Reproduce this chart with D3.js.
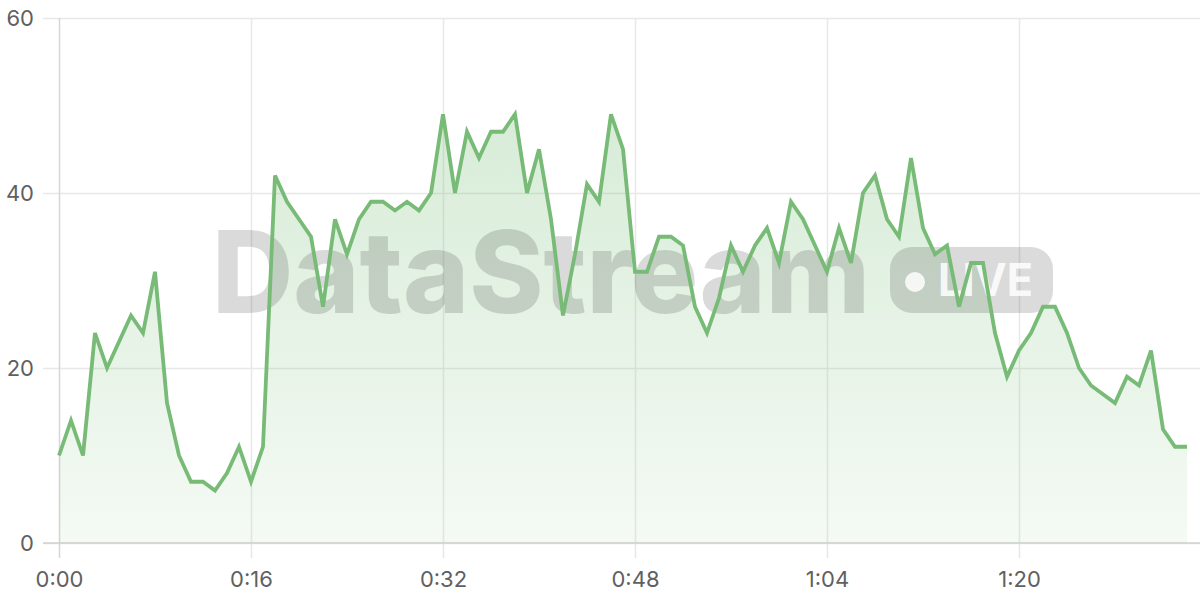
<!DOCTYPE html>
<html>
<head>
<meta charset="utf-8">
<script src="https://cdn.jsdelivr.net/npm/d3@7"></script>
<style>
  html, body { margin: 0; padding: 0; background: #fff; }
  svg { display: block; font-family: Inter, "Noto Sans", sans-serif; }
</style>
</head>
<body>
<svg id="chart"></svg>
<script>
const WIDTH = 1200;
const HEIGHT = 600;
const LEFT = 59;
const RIGHT = 1187;
const TOP = 18;
const BOTTOM = 543;
const FONT = 'Inter, "Noto Sans", sans-serif';

// one reading per minute, 0:00 .. 1:34
const minutes = d3.range(0, 95);
const values = [
  10, 14, 10, 24, 20, 23, 26, 24, 31, 16,
  10, 7, 7, 6, 8, 11, 7, 11, 42, 39,
  37, 35, 27, 37, 33, 37, 39, 39, 38, 39,
  38, 40, 49, 40, 47, 44, 47, 47, 49, 40,
  45, 37, 26, 33, 41, 39, 49, 45, 31, 31,
  35, 35, 34, 27, 24, 28, 34, 31, 34, 36,
  32, 39, 37, 34, 31, 36, 32, 40, 42, 37,
  35, 44, 36, 33, 34, 27, 32, 32, 24, 19,
  22, 24, 27, 27, 24, 20, 18, 17, 16, 19,
  18, 22, 13, 11, 11
];
const xTicks = [0, 16, 32, 48, 64, 80];
const yTicks = [0, 20, 40, 60];

const data = minutes.map((m, i) => ({ m, v: values[i] }));

const fmtTime = m => Math.floor(m / 60) + ':' + String(m % 60).padStart(2, '0');

const x = d3.scaleLinear().domain([0, 94]).range([LEFT, RIGHT]);
const y = d3.scaleLinear().domain([0, 60]).range([BOTTOM, TOP]);

const svg = d3.select('#chart').attr('width', WIDTH).attr('height', HEIGHT);

const defs = svg.append('defs');
const grad = defs.append('linearGradient')
  .attr('id', 'areaFill')
  .attr('x1', 0).attr('y1', 0).attr('x2', 0).attr('y2', 1);
grad.append('stop').attr('offset', '0%').attr('stop-color', '#7bbf7b').attr('stop-opacity', 0.3);
grad.append('stop').attr('offset', '100%').attr('stop-color', '#7bbf7b').attr('stop-opacity', 0.08);

// horizontal grid
const yAxis = d3.axisLeft(y)
  .tickValues(yTicks)
  .tickSize(-(WIDTH - 43))
  .tickPadding(10);
const yg = svg.append('g')
  .attr('class', 'y-axis')
  .attr('transform', `translate(43, 0)`)
  .call(yAxis)
  .attr('font-family', FONT);
yg.select('.domain').remove();
yg.selectAll('.tick line')
  .attr('stroke', '#e8e8e8')
  .attr('stroke-width', 1.5)
  .attr('x1', 0);
yg.selectAll('.tick text')
  .attr('x', -9)
  .attr('fill', '#606060')
  .attr('font-size', 22);

// vertical grid + time labels
const xAxis = d3.axisBottom(x)
  .tickValues(xTicks)
  .tickFormat(fmtTime)
  .tickSize(-(BOTTOM - TOP))
  .tickPadding(0);
const xg = svg.append('g')
  .attr('class', 'x-axis')
  .attr('transform', `translate(0, ${BOTTOM})`)
  .call(xAxis)
  .attr('font-family', FONT);
xg.select('.domain').remove();
xg.selectAll('.tick line')
  .attr('y2', 15)
  .attr('y1', -(BOTTOM - TOP))
  .attr('stroke', (d, i) => i === 0 ? '#d6d6d6' : '#e8e8e8')
  .attr('stroke-width', 1.5);
xg.selectAll('.tick text')
  .attr('y', 37)
  .attr('dy', '0.32em')
  .attr('fill', '#606060')
  .attr('font-size', 22);

// baseline
svg.append('line')
  .attr('x1', 43).attr('x2', WIDTH)
  .attr('y1', y(0)).attr('y2', y(0))
  .attr('stroke', '#d0d0d0')
  .attr('stroke-width', 1.5);

// area
const area = d3.area()
  .x(d => x(d.m))
  .y0(y(0))
  .y1(d => y(d.v));
svg.append('path')
  .datum(data)
  .attr('fill', 'url(#areaFill)')
  .attr('d', area);

// watermark
const wm = svg.append('g').attr('class', 'watermark').attr('opacity', 0.14)
  .attr('font-family', FONT);
wm.append('text')
  .attr('x', 212)
  .attr('y', 313)
  .attr('font-size', 114)
  .attr('font-weight', 800)
  .attr('textLength', 658)
  .attr('lengthAdjust', 'spacingAndGlyphs')
  .attr('fill', '#000')
  .text('DataStream');
wm.append('rect')
  .attr('x', 890).attr('y', 247)
  .attr('width', 163).attr('height', 66)
  .attr('rx', 22)
  .attr('fill', '#000');
const wm2 = svg.append('g').attr('class', 'watermark-live').attr('opacity', 0.85)
  .attr('font-family', FONT);
wm2.append('circle')
  .attr('cx', 915).attr('cy', 282).attr('r', 10)
  .attr('fill', '#fff');
wm2.append('text')
  .attr('x', 938)
  .attr('y', 296)
  .attr('font-size', 45)
  .attr('font-weight', 700)
  .attr('textLength', 95)
  .attr('lengthAdjust', 'spacingAndGlyphs')
  .attr('fill', '#fff')
  .text('LIVE');

// line
const line = d3.line()
  .x(d => x(d.m))
  .y(d => y(d.v));
svg.append('path')
  .datum(data)
  .attr('fill', 'none')
  .attr('stroke', '#77bb77')
  .attr('stroke-width', 3.8)
  .attr('stroke-linejoin', 'miter')
  .attr('d', line);
</script>
</body>
</html>
